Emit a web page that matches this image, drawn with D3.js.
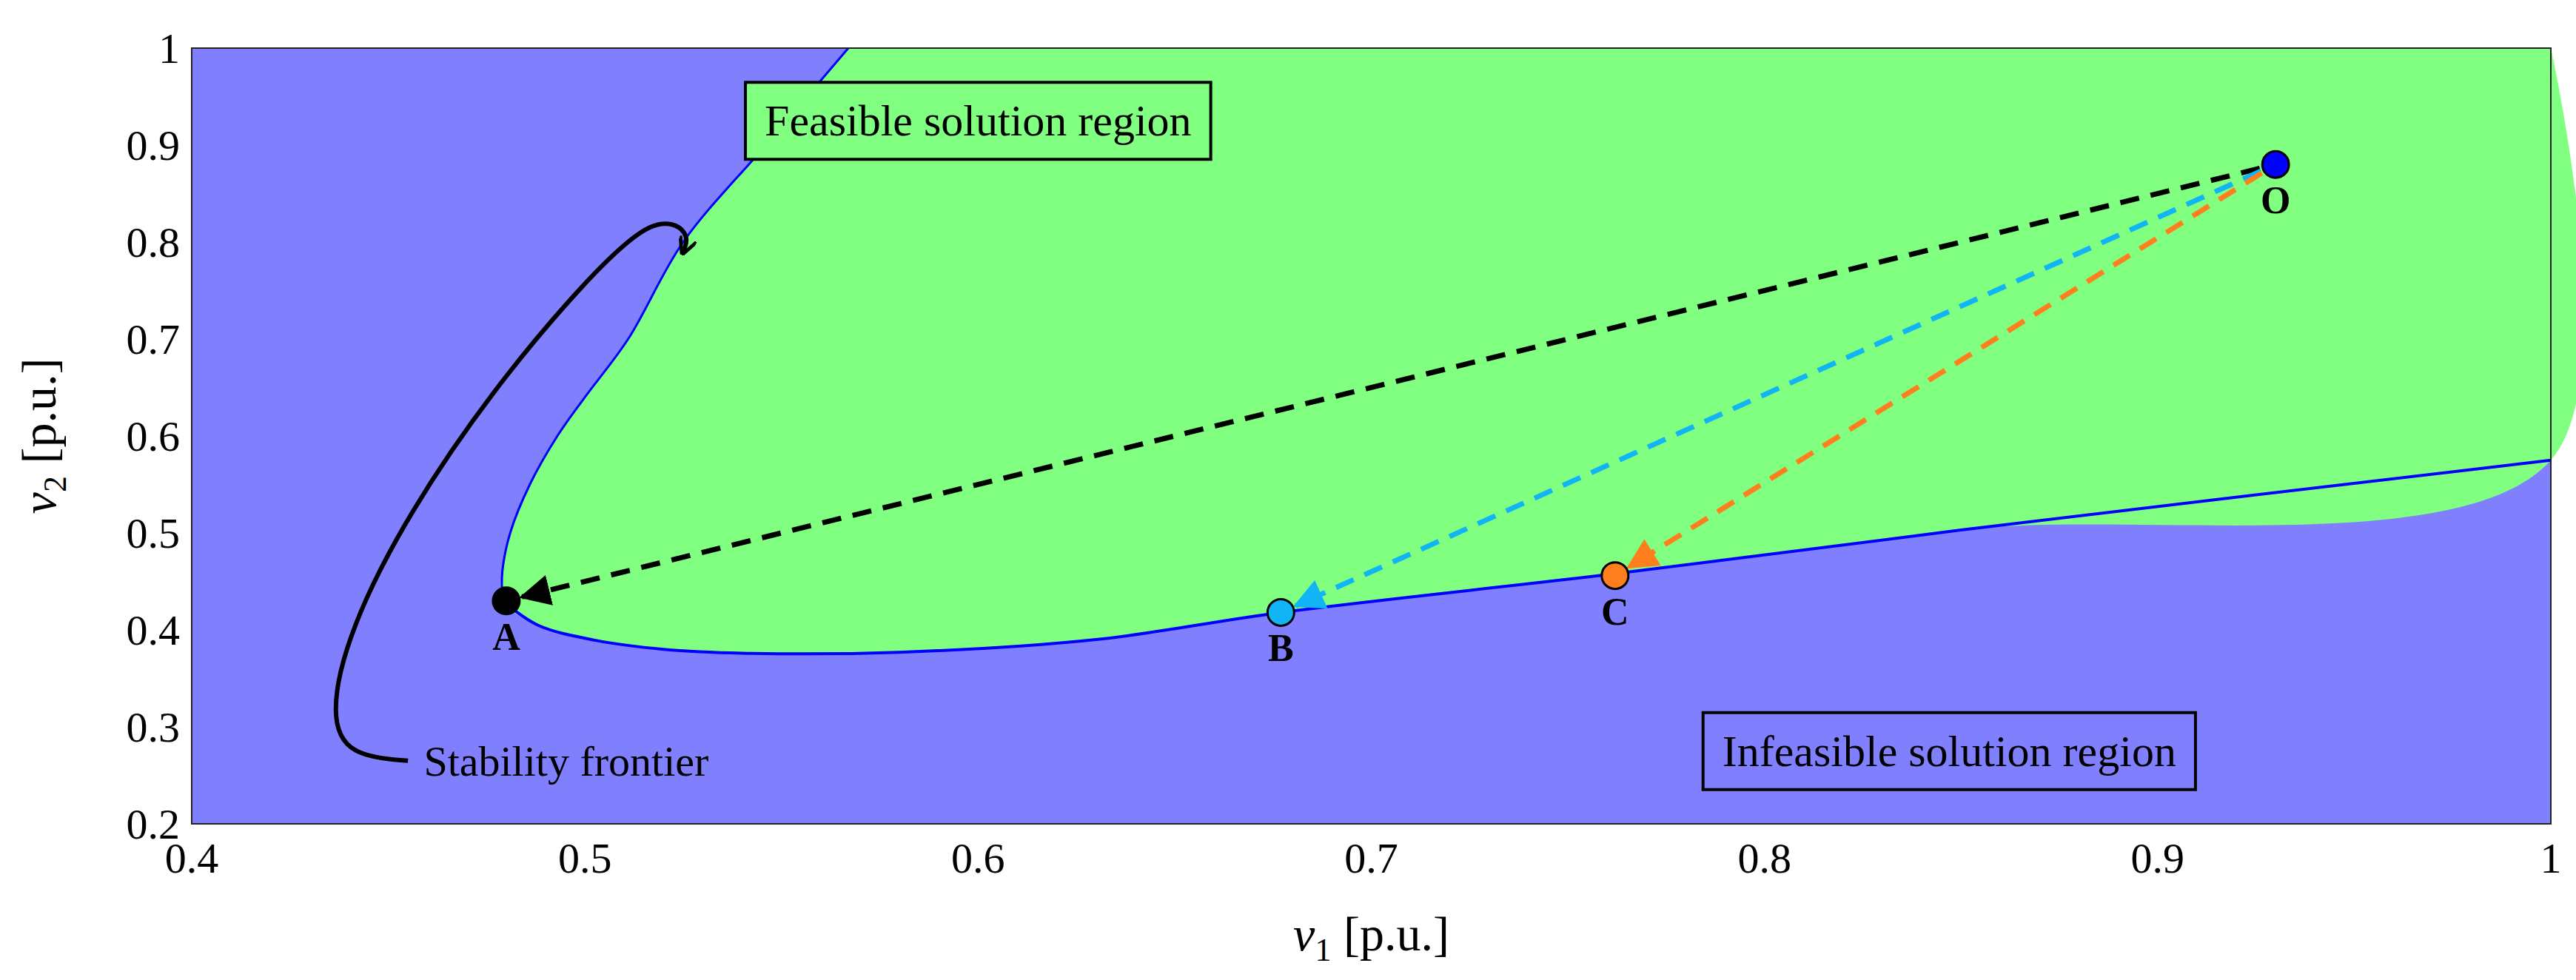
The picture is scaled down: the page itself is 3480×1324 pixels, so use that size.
<!DOCTYPE html>
<html><head><meta charset="utf-8">
<script src="https://cdn.jsdelivr.net/npm/d3@7"></script>
<style>body{margin:0;background:#fff}text{font-family:"Liberation Serif","DejaVu Serif",serif}</style>
</head><body><div id="chart"></div>
<script>
// frontier of the feasible region, [v1, v2]
var upperEdge = [[0.567,1.0],[0.546,0.90],[0.525,0.80],[0.511,0.70],[0.500,0.64],[0.493,0.60],[0.486,0.55],[0.481,0.50],[0.479,0.46],[0.479,0.43]];
var lowerEdge = [[0.479,0.43],[0.488,0.405],[0.503,0.389],[0.520,0.380],[0.540,0.376],[0.580,0.377],[0.630,0.390],[0.677,0.418],[0.762,0.458],[0.850,0.503],[1.0,0.575]];
var pointNames = ["O","A","B","C"];
var pointV1 = [0.930,0.480,0.677,0.762];
var pointV2 = [0.880,0.430,0.418,0.456];
var pointColors = ["#0000ff","#000000","#11b5f5","#ff7f1e"];
var xTicks = [0.4,0.5,0.6,0.7,0.8,0.9,1];
var yTicks = [0.2,0.3,0.4,0.5,0.6,0.7,0.8,0.9,1];
var frontierNote = [[0.455,0.265],[0.440,0.270],[0.435,0.31],[0.440,0.40],[0.455,0.52],[0.477,0.65],[0.500,0.76],[0.518,0.83],[0.527,0.81],[0.525,0.79]];

var W = 3480, H = 1324, m = {left:259, right:34, top:65, bottom:211};
var svg = d3.select("#chart").append("svg").attr("width", W).attr("height", H);
var x = d3.scaleLinear().domain([0.4,1]).range([m.left, W - m.right]);
var y = d3.scaleLinear().domain([0.2,1]).range([H - m.bottom, m.top]);
var line = d3.line().x(d => x(d[0])).y(d => y(d[1]));

svg.append("rect").attr("x", x(0.4)).attr("y", y(1)).attr("width", x(1)-x(0.4)).attr("height", y(0.2)-y(1)).attr("fill", "#8080ff");
var region = upperEdge.concat(lowerEdge.slice(1), [[1,1]]);
svg.append("path").attr("d", line.curve(d3.curveMonotoneY)(upperEdge).replace(/^M/, "M") ).attr("fill","none");
line.curve(d3.curveLinear);
svg.append("path").attr("d", d3.line().curve(d3.curveCatmullRom).x(d => x(d[0])).y(d => y(d[1]))(region) + "Z").attr("fill", "#80ff80");
svg.append("path").attr("d", d3.line().curve(d3.curveCatmullRom).x(d => x(d[0])).y(d => y(d[1]))(upperEdge)).attr("fill","none").attr("stroke","#0000ff").attr("stroke-width",3);
svg.append("path").attr("d", d3.line().curve(d3.curveCatmullRom).x(d => x(d[0])).y(d => y(d[1]))(lowerEdge)).attr("fill","none").attr("stroke","#0000ff").attr("stroke-width",4);
svg.append("rect").attr("x", x(0.4)).attr("y", y(1)).attr("width", x(1)-x(0.4)).attr("height", y(0.2)-y(1)).attr("fill", "none").attr("stroke","#222").attr("stroke-width",2);

// axes
svg.append("g").selectAll("text").data(xTicks).join("text")
  .attr("x", d => x(d)).attr("y", H - m.bottom + 66).attr("text-anchor","middle")
  .attr("font-size", 58).text(d => d);
svg.append("g").selectAll("text").data(yTicks).join("text")
  .attr("x", m.left - 16).attr("y", d => y(d) + 20).attr("text-anchor","end")
  .attr("font-size", 58).text(d => d);
var xl = svg.append("text").attr("x", (x(0.4)+x(1))/2).attr("y", H - 40).attr("text-anchor","middle").attr("font-size",66);
xl.append("tspan").attr("font-style","italic").text("v");
xl.append("tspan").attr("font-size",44).attr("dy",14).text("1");
xl.append("tspan").attr("dy",-14).text(" [p.u.]");
var yl = svg.append("text").attr("transform", "translate(75," + (y(0.6)) + ") rotate(-90)").attr("text-anchor","middle").attr("font-size",66);
yl.append("tspan").attr("font-style","italic").text("v");
yl.append("tspan").attr("font-size",44).attr("dy",14).text("2");
yl.append("tspan").attr("dy",-14).text(" [p.u.]");

// arrows from O
var defs = svg.append("defs");
pointColors.forEach(function(c, i) {
  defs.append("marker").attr("id","ah"+i).attr("viewBox","0 0 10 10").attr("refX",9).attr("refY",5)
    .attr("markerWidth",6).attr("markerHeight",6).attr("orient","auto")
    .append("path").attr("d","M0,0L10,5L0,10Z").attr("fill",c);
});
defs.append("marker").attr("id","hook").attr("viewBox","0 0 10 10").attr("refX",8).attr("refY",5)
  .attr("markerWidth",4).attr("markerHeight",4).attr("orient","auto")
  .append("path").attr("d","M0,0L10,5L0,10").attr("fill","none").attr("stroke","#000").attr("stroke-width",2);
[1,2,3].forEach(function(i) {
  var dx = x(pointV1[i]) - x(pointV1[0]), dy = y(pointV2[i]) - y(pointV2[0]);
  var len = Math.sqrt(dx*dx + dy*dy), r = 22;
  svg.append("line").attr("x1", x(pointV1[0]) + r*dx/len).attr("y1", y(pointV2[0]) + r*dy/len)
    .attr("x2", x(pointV1[i]) - r*dx/len).attr("y2", y(pointV2[i]) - r*dy/len)
    .attr("stroke", pointColors[i]).attr("stroke-width",7).attr("stroke-dasharray","26,16")
    .attr("marker-end","url(#ah"+i+")");
});

// points
pointNames.forEach(function(n, i) {
  svg.append("circle").attr("cx", x(pointV1[i])).attr("cy", y(pointV2[i])).attr("r", 18)
    .attr("fill", pointColors[i]).attr("stroke","#000").attr("stroke-width",3);
  svg.append("text").attr("x", x(pointV1[i])).attr("y", y(pointV2[i]) + 66).attr("text-anchor","middle")
    .attr("font-size",52).attr("font-weight","bold").text(n);
});

// stability frontier note
svg.append("path").attr("d", d3.line().curve(d3.curveBasis).x(d => x(d[0])).y(d => y(d[1]))(frontierNote))
  .attr("fill","none").attr("stroke","#000").attr("stroke-width",6).attr("marker-end","url(#hook)");
svg.append("text").attr("x", x(0.459)).attr("y", y(0.265) + 20).attr("font-size",58).text("Stability frontier");

// region boxes
function box(cx, cy, label, fill) {
  var g = svg.append("g");
  var rect = g.append("rect");
  var t = g.append("text").attr("x", cx).attr("y", cy + 20).attr("text-anchor","middle").attr("font-size",60).text(label);
  var b = t.node().getBBox();
  rect.attr("x", b.x - 26).attr("y", cy - 52).attr("width", b.width + 52).attr("height", 104)
    .attr("fill", fill).attr("stroke","#000").attr("stroke-width",4);
}
box(x(0.6),  y(0.925), "Feasible solution region", "#80ff80");
box(x(0.847), y(0.275), "Infeasible solution region", "#8080ff");
</script></body></html>
